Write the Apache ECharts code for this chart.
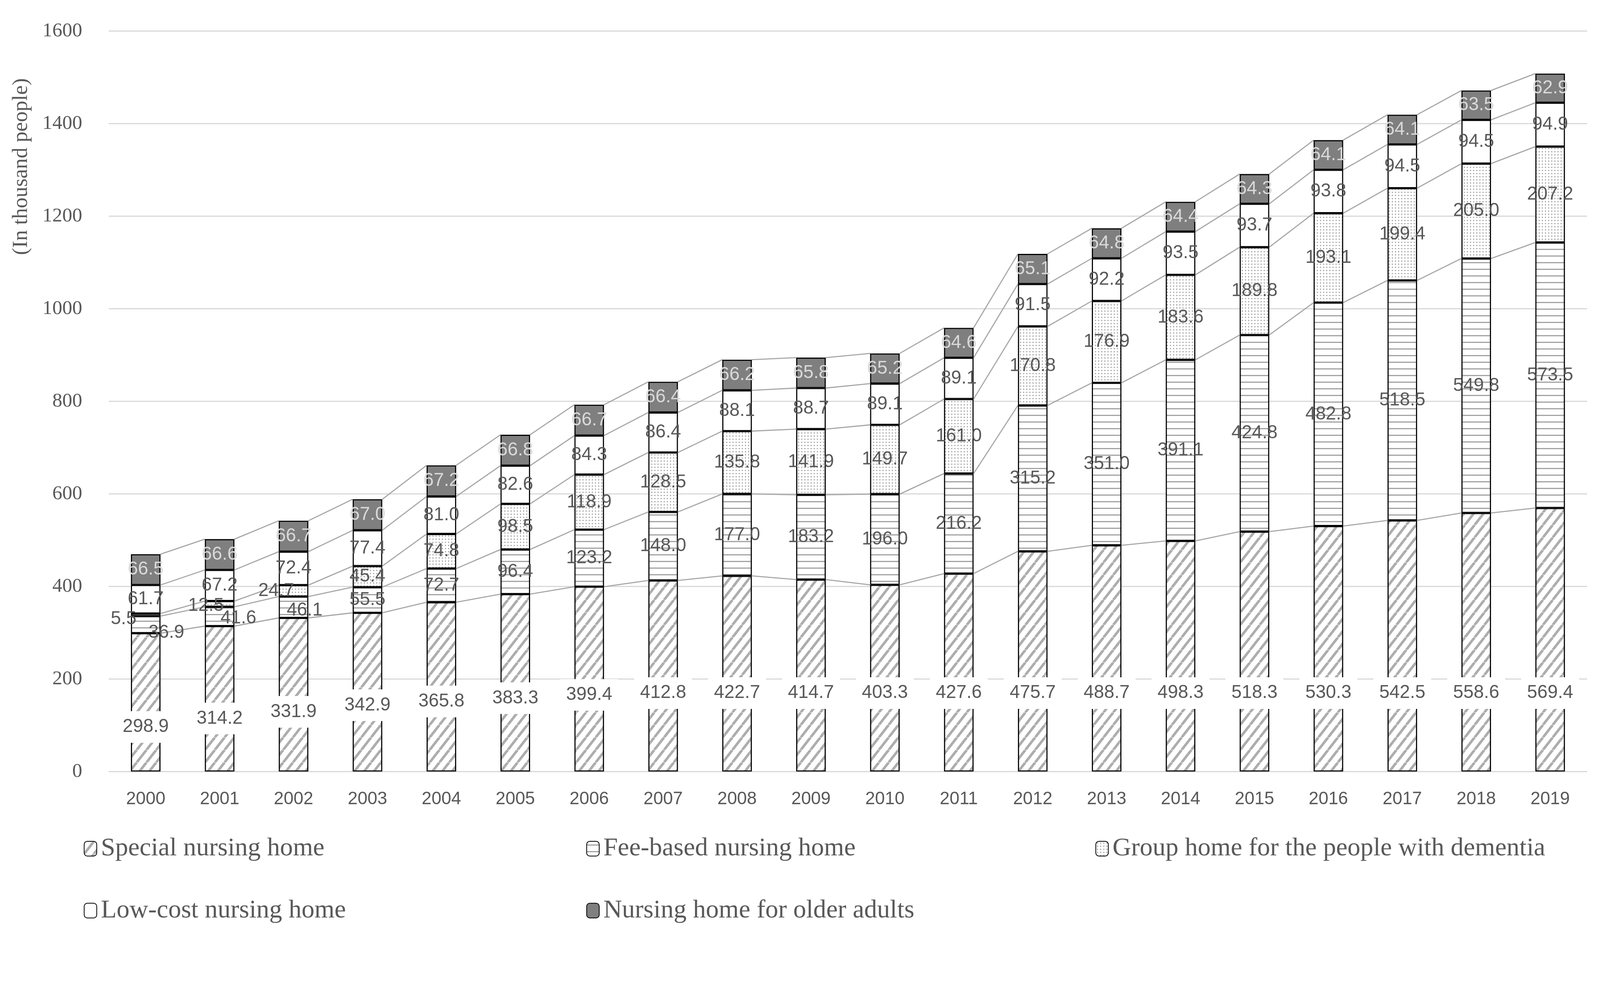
<!DOCTYPE html>
<html>
<head>
<meta charset="utf-8">
<script src="https://cdn.jsdelivr.net/npm/echarts@6/dist/echarts.min.js"></script>
<style>
html,body{margin:0;padding:0;background:#fff;overflow:hidden;}
#chart{width:100vw;height:100vh;}
</style>
</head>
<body>
<div id="chart"></div>
<script>
const categories = ['2000','2001','2002','2003','2004','2005','2006','2007','2008','2009','2010','2011','2012','2013','2014','2015','2016','2017','2018','2019'];
const special = [298.9, 314.2, 331.9, 342.9, 365.8, 383.3, 399.4, 412.8, 422.7, 414.7, 403.3, 427.6, 475.7, 488.7, 498.3, 518.3, 530.3, 542.5, 558.6, 569.4];
const feeBased = [36.9, 41.6, 46.1, 55.5, 72.7, 96.4, 123.2, 148.0, 177.0, 183.2, 196.0, 216.2, 315.2, 351.0, 391.1, 424.8, 482.8, 518.5, 549.8, 573.5];
const groupHome = [5.5, 12.5, 24.7, 45.4, 74.8, 98.5, 118.9, 128.5, 135.8, 141.9, 149.7, 161.0, 170.8, 176.9, 183.6, 189.8, 193.1, 199.4, 205.0, 207.2];
const lowCost = [61.7, 67.2, 72.4, 77.4, 81.0, 82.6, 84.3, 86.4, 88.1, 88.7, 89.1, 89.1, 91.5, 92.2, 93.5, 93.7, 93.8, 94.5, 94.5, 94.9];
const olderAdults = [66.5, 66.6, 66.7, 67.0, 67.2, 66.8, 66.7, 66.4, 66.2, 65.8, 65.2, 64.6, 65.1, 64.8, 64.4, 64.3, 64.1, 64.1, 63.5, 62.9];
const seriesNames = ['Special nursing home','Fee-based nursing home','Group home for the people with dementia','Low-cost nursing home','Nursing home for older adults'];
const yMin = 0, yMax = 1600, yStep = 200;

// ---------- layout scale (design is 4340 x 2527) ----------
const el = document.getElementById('chart');
const k = Math.min(el.clientWidth / 4340, el.clientHeight / 2527);
const S = v => v * k;

// ---------- styles ----------
const LABEL_COLOR = '#595959';
const SANS = '"Liberation Sans", Arial, sans-serif';
const SERIF = '"Liberation Serif", "DejaVu Serif", serif';

function tile(w, h, draw) {
  const c = document.createElement('canvas');
  c.width = Math.round(w); c.height = Math.round(h);
  const ctx = c.getContext('2d');
  ctx.fillStyle = '#fff';
  ctx.fillRect(0, 0, c.width, c.height);
  draw(ctx, c.width, c.height);
  return { image: c, repeat: 'repeat' };
}
const diagPattern = tile(S(26), S(34), (ctx, w, h) => {
  ctx.strokeStyle = '#adadad';
  ctx.lineWidth = S(7);
  for (let j = -1; j <= 1; j++) {
    ctx.beginPath();
    ctx.moveTo(j * w, h);
    ctx.lineTo(j * w + w, 0);
    ctx.stroke();
  }
});
const hLinePattern = tile(S(10), S(18), (ctx, w, h) => {
  ctx.fillStyle = '#a3a3a3';
  ctx.fillRect(0, Math.round(h * 0.45), w, Math.max(1, Math.round(S(3))));
});
const dotPattern = tile(S(8), S(9), (ctx, w, h) => {
  ctx.fillStyle = '#a8a8a8';
  const d = Math.max(1, Math.round(S(3)));
  ctx.fillRect(Math.round(w / 3), Math.round(h / 3), d, d);
});

// manual label nudges (design px) seen in the reference for crowded small segments
const feeNudge = {0: [56, 22], 1: [51, 5], 2: [30, 9]};
const groupNudge = {0: [-60, 12], 1: [-37, 5], 2: [-47, 0]};
// distance of the special label box from the bar base (design px)
const specialLabelDist = [78, 101, 119, 137, 147, 156, 165];

const fmt = p => Number(p.value).toFixed(1);
const baseLabel = {
  show: true, position: 'inside', formatter: fmt,
  fontFamily: SANS, fontSize: S(50), color: LABEL_COLOR
};

function itemsWithNudge(vals, nudge) {
  return vals.map((v, i) => nudge[i] ? { value: v, label: { offset: nudge[i].map(S) } } : v);
}

const levels = [];
{
  let acc = categories.map(() => 0);
  [special, feeBased, groupHome, lowCost, olderAdults].forEach(arr => {
    acc = acc.map((a, i) => a + arr[i]);
    levels.push(acc.slice());
  });
}

const BW = S(3);
const barCommon = {
  type: 'bar', stack: 'total', barWidth: '40%', z: 2,
  emphasis: { disabled: true }
};

const chart = echarts.init(el, null, { renderer: 'canvas' });

const legendPos = [
  { left: 222, top: 2262 },
  { left: 1585, top: 2262 },
  { left: 2966, top: 2262 },
  { left: 222, top: 2430 },
  { left: 1585, top: 2430 }
];

const option = {
  backgroundColor: '#fff',
  animation: false,
  grid: { left: S(295), right: el.clientWidth - S(4305), top: S(84), bottom: el.clientHeight - S(2093) },
  legend: seriesNames.map((n, i) => ({
    data: [n], left: S(legendPos[i].left), top: S(legendPos[i].top),
    itemWidth: S(34), itemHeight: S(40), selectedMode: false,
    textStyle: { fontFamily: SERIF, fontSize: S(70), color: LABEL_COLOR, padding: [0, 0, 0, S(6)] }
  })),
  graphic: [{
    type: 'text', x: S(58), y: S(452), rotation: Math.PI / 2,
    style: { text: '(In thousand people)', fontFamily: SERIF, fontSize: S(58), fill: LABEL_COLOR,
      textAlign: 'center', textVerticalAlign: 'middle' }
  }],
  xAxis: {
    type: 'category', data: categories,
    axisLine: { show: false }, axisTick: { show: false },
    axisLabel: { fontFamily: SANS, fontSize: S(48), color: LABEL_COLOR, margin: S(52) }
  },
  yAxis: {
    type: 'value', min: yMin, max: yMax, interval: yStep,
    axisLine: { show: false }, axisTick: { show: false },
    axisLabel: { fontFamily: SERIF, fontSize: S(54), color: LABEL_COLOR, margin: S(72), formatter: v => String(v) },
    splitLine: { lineStyle: { color: '#d9d9d9', width: S(3) } }
  },
  series: [
    {
      type: 'custom', name: 'series-lines', silent: true, z: 1,
      data: categories.map((c, i) => [i, levels[4][i]]),
      encode: { x: 0, y: 1 },
      renderItem: function (params, api) {
        const i = api.value(0);
        if (i >= categories.length - 1) return null;
        const half = api.size([1, 0])[0] * 0.4 / 2;
        return {
          type: 'group',
          children: levels.map(cum => {
            const p1 = api.coord([i, cum[i]]);
            const p2 = api.coord([i + 1, cum[i + 1]]);
            return { type: 'line', shape: { x1: p1[0] + half, y1: p1[1], x2: p2[0] - half, y2: p2[1] },
              style: { stroke: '#a6a6a6', lineWidth: S(3) } };
          })
        };
      }
    },
    Object.assign({}, barCommon, {
      name: seriesNames[0],
      itemStyle: { color: diagPattern, borderColor: '#000', borderWidth: BW },
      label: Object.assign({}, baseLabel, { position: 'insideBottom', backgroundColor: '#fff', padding: [S(18), S(16)] }),
      data: special.map((v, i) => ({ value: v, label: { distance: S(i < specialLabelDist.length ? specialLabelDist[i] : 170) } }))
    }),
    Object.assign({}, barCommon, {
      name: seriesNames[1],
      itemStyle: { color: hLinePattern, borderColor: '#000', borderWidth: BW },
      label: baseLabel,
      data: itemsWithNudge(feeBased, feeNudge)
    }),
    Object.assign({}, barCommon, {
      name: seriesNames[2],
      itemStyle: { color: dotPattern, borderColor: '#000', borderWidth: BW },
      label: baseLabel,
      data: itemsWithNudge(groupHome, groupNudge)
    }),
    Object.assign({}, barCommon, {
      name: seriesNames[3],
      itemStyle: { color: '#ffffff', borderColor: '#000', borderWidth: BW },
      label: baseLabel,
      data: lowCost
    }),
    Object.assign({}, barCommon, {
      name: seriesNames[4],
      itemStyle: { color: '#7f7f7f', borderColor: '#000', borderWidth: BW },
      label: Object.assign({}, baseLabel, { color: '#d9d9d9' }),
      data: olderAdults
    })
  ]
};
chart.setOption(option);
</script>
</body>
</html>
